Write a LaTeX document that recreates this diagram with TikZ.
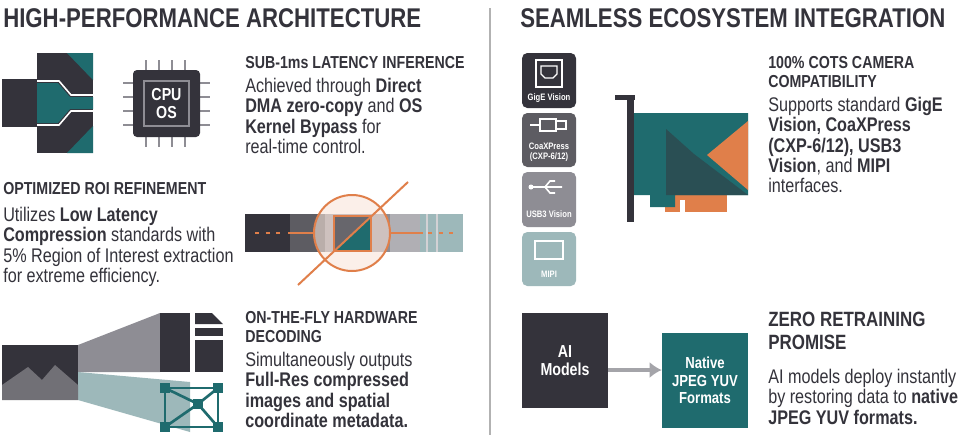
\documentclass[tikz,border=0pt]{standalone}
\usepackage{fontspec}
\setmainfont{Liberation Sans}[FakeStretch=0.82]
\usetikzlibrary{positioning,arrows.meta}
\definecolor{ink}{HTML}{34333B}
\definecolor{tealc}{HTML}{1F6B6E}
\definecolor{orng}{HTML}{E07F4A}
\definecolor{grayc}{HTML}{8E8D94}
\definecolor{paleteal}{HTML}{9DB8BA}
\tikzset{
  title/.style={anchor=west, font=\bfseries\fontsize{20.3}{24}\selectfont, text=ink, inner sep=0pt},
  head/.style={anchor=north west, align=left, font=\bfseries\fontsize{13}{14.5}\selectfont, text=ink, inner sep=0pt},
  body/.style={anchor=north west, align=left, font=\fontsize{14.8}{15.2}\selectfont, text=ink, inner sep=0pt},
  port/.style={fill=#1, rounded corners=4pt},
  boxtxt/.style={font=\bfseries\fontsize{7}{7.5}\selectfont, text=white, align=center, inner sep=0pt}
}
\begin{document}
\begin{tikzpicture}[x=0.75pt,y=-0.75pt]
\useasboundingbox[fill=white] (0,0) rectangle (980,443);
% titles and divider
\node[title] (tl) at (3,18) {HIGH-PERFORMANCE ARCHITECTURE};
\node[title] (tr) at (520,18) {SEAMLESS ECOSYSTEM INTEGRATION};
\draw[gray!60, line width=1pt] (490,8) -- (490,435);
% bypass icon
\fill[ink] (2,79) rectangle (38,127);
\fill[ink] (37,53) rectangle (93,153);
\fill[tealc] (67,53) -- (93,53) -- (93,80) -- cycle;
\fill[tealc] (67,153) -- (93,153) -- (93,126) -- cycle;
\fill[tealc] (37,83) -- (58,83) -- (70,97) -- (93,97) -- (93,109) -- (70,109) -- (58,123) -- (37,123) -- cycle;
\draw[white, line width=1.2pt] (37,81) -- (59,81) -- (71,95) -- (93,95);
\draw[white, line width=1.2pt] (37,125) -- (59,125) -- (71,111) -- (93,111);
% cpu
\foreach \i in {0,1,2,3} {
  \draw[grayc, line width=1.5pt] (146+\i*13,60) -- (146+\i*13,147);
  \draw[grayc, line width=1.5pt] (123,83+\i*14) -- (210,83+\i*14);
}
\fill[ink, rounded corners=3pt] (133,70) rectangle (200,137);
\draw[grayc, line width=2pt] (144,81) rectangle (189,126);
\node[font=\bfseries\fontsize{13}{14}\selectfont, text=white, align=center] (cpu) at (166.5,103.5) {CPU\\OS};
\node[head] (h1) at (245,56) {SUB-1ms LATENCY INFERENCE};
\node[body] (b1) at (245,78) {Achieved through \textbf{Direct}\\\textbf{DMA zero-copy} and \textbf{OS}\\\textbf{Kernel Bypass} for\\real-time control.};
% roi
\node[head] (h2) at (3,182) {OPTIMIZED ROI REFINEMENT};
\node[body] (b2) at (3,207) {Utilizes \textbf{Low Latency}\\\textbf{Compression} standards with\\5\% Region of Interest extraction\\for extreme efficiency.};
\fill[ink] (245,214) rectangle (290,252);
\fill[ink!80] (290,214) rectangle (325,252);
\fill[grayc] (325,214) rectangle (390,252);
\fill[grayc!70] (390,214) rectangle (420,252);
\fill[paleteal] (420,214) rectangle (463,252);
\draw[grayc!40, line width=2pt] (427,214) -- (427,252) (437,214) -- (437,252);
\fill[orng!20, opacity=0.6] (352,233) circle (38);
\draw[orng, line width=1.5pt] (352,233) circle (38);
\draw[orng, line width=1.5pt, dash pattern=on 3pt off 5pt] (255,233) -- (280,233);
\draw[orng, line width=1.5pt] (288,233) -- (314,233) (390,233) -- (423,233);
\draw[orng, line width=1.5pt, dash pattern=on 3pt off 5pt] (428,233) -- (456,233);
\fill[ink!75] (334,216) rectangle (371,251);
\fill[tealc] (371,216) -- (371,251) -- (334,251) -- cycle;
\draw[orng, line width=1.5pt] (334,216) rectangle (371,251);
\draw[orng, line width=1.5pt] (298,285) -- (408,182);
% decoding
\fill[grayc] (78,345) -- (160,313) -- (160,372) -- (78,372) -- cycle;
\fill[paleteal] (78,372) -- (190,382) -- (190,432) -- (78,400) -- cycle;
\fill[ink] (2,345) rectangle (78,400);
\fill[ink!70] (2,400) -- (2,385) -- (28,367) -- (42,380) -- (55,365) -- (78,385) -- (78,400) -- cycle;
\fill[ink] (160,313) rectangle (190,372);
\fill[ink] (195,313) -- (212,313) -- (223,324) -- (195,324) -- cycle;
\fill[ink] (195,328) rectangle (223,336);
\fill[ink] (195,340) rectangle (223,372);
\draw[tealc, line width=2pt] (165,388) -- (218,388) -- (218,427) -- (165,427) -- cycle;
\draw[tealc, line width=2pt] (165,388) -- (198,404) -- (218,388) (198,404) -- (218,427) (198,404) -- (165,427);
\foreach \p in {(165,388),(218,388),(218,427),(165,427),(198,404)} \fill[tealc] \p ++(-5,-5) rectangle ++(10,10);
\node[head] (h3) at (245,311) {ON-THE-FLY HARDWARE\\DECODING};
\node[body] (b3) at (245,352) {Simultaneously outputs\\\textbf{Full-Res compressed}\\\textbf{images and spatial}\\\textbf{coordinate metadata.}};
% interfaces
\fill[port=ink] (522,53) rectangle (576,108);
\fill[port=ink!80] (522,113) rectangle (576,167);
\fill[port=grayc] (522,172) rectangle (576,227);
\fill[port=paleteal] (522,232) rectangle (576,286);
\draw[white, line width=1pt] (536,60) rectangle (562,87);
\draw[white, line width=1pt] (541,66) -- (557,66) -- (557,74) -- (553,78) -- (545,78) -- (541,74) -- cycle;
\draw[white, line width=1.2pt] (530,125) -- (540,125) (540,119) rectangle (556,131) (556,121) rectangle (566,129);
\draw[white, line width=1.2pt] (531,187) -- (562,187) (545,187) -- (550,181) -- (555,181) (545,187) -- (550,193) -- (555,193);
\fill[white] (531,187) circle (2.5);
\draw[white, line width=1pt] (535,241) rectangle (563,259);
\node[boxtxt] (gige) at (549,98) {GigE Vision};
\node[boxtxt] (coax) at (549,152) {CoaXPress\\(CXP-6/12)};
\node[boxtxt] (usb) at (549,214) {USB3 Vision};
\node[boxtxt] (mipi) at (549,274) {MIPI};
% capture card
\fill[ink] (615,95) rectangle (635,100);
\fill[ink] (627,95) rectangle (634,222);
\fill[orng] (665,195) rectangle (727,212);
\fill[white] (680,200) rectangle (685,212);
\fill[tealc] (634,113) -- (748,113) -- (748,195) -- (675,195) -- (675,207) -- (650,207) -- (650,195) -- (634,195) -- cycle;
\fill[ink!50!tealc] (666,129) -- (694,154) -- (748,195) -- (666,195) -- cycle;
\fill[orng] (748,121) -- (707,155) -- (748,190) -- cycle;
\node[head] (h4) at (768,56) {100\% COTS CAMERA\\COMPATIBILITY};
\node[body] (b4) at (768,97) {Supports standard \textbf{GigE}\\\textbf{Vision, CoaXPress}\\\textbf{(CXP-6/12), USB3}\\\textbf{Vision}, and \textbf{MIPI}\\interfaces.};
% retraining
\node[fill=ink, minimum width=64.5pt, minimum height=71pt, font=\bfseries\fontsize{13}{14}\selectfont, text=white, align=center] (ai) at (565,360.5) {AI\\Models};
\node[fill=tealc, minimum width=64.5pt, minimum height=71pt, font=\bfseries\fontsize{12}{13}\selectfont, text=white, align=center] (jpeg) at (705,380.5) {Native\\JPEG YUV\\Formats};
\draw[grayc!80, line width=3pt, -{Latex[length=9pt,width=12pt]}] (ai.east |- 0,370) -- (jpeg.west |- 0,370);
\node[head, font=\bfseries\fontsize{15.5}{17}\selectfont] (h5) at (768,312) {ZERO RETRAINING\\PROMISE};
\node[body] (b5) at (768,369) {AI models deploy instantly\\by restoring data to \textbf{native}\\\textbf{JPEG YUV formats.}};
\end{tikzpicture}
\end{document}
